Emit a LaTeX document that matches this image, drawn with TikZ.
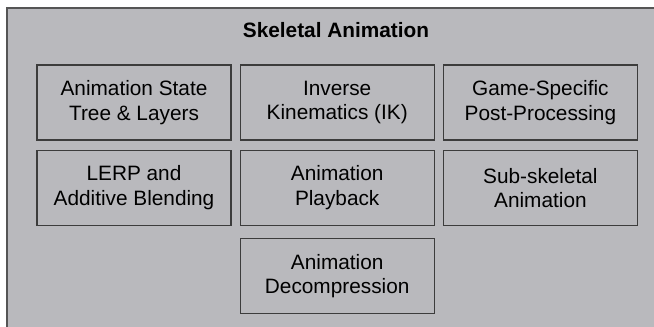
\documentclass[tikz,border=0pt]{standalone}
\usepackage{fontspec}
\setmainfont{Liberation Sans}
\definecolor{panelgray}{RGB}{185,185,189}
\definecolor{edgegray}{RGB}{85,85,85}
\definecolor{boxedge}{RGB}{60,60,60}
\usetikzlibrary{positioning}
\tikzset{
  panel/.style={fill=panelgray,draw=edgegray,line width=1.4pt},
  modbox/.style={draw=boxedge,line width=0.9pt,minimum width=145.5pt,minimum height=56.2pt,
    align=center,font=\fontsize{15.6}{18.2}\selectfont,inner sep=0pt},
  ttl/.style={font=\fontsize{15.6}{18.2}\selectfont\bfseries},
}
\begin{document}
\begin{tikzpicture}[x=0.75pt,y=-0.75pt]
  \useasboundingbox (0,0) rectangle (654,326);
  \clip (0,0) rectangle (654,326);
  % outer panel (runs off the right and bottom)
  \draw[panel] (7,8) rectangle (670,340);
  \node[ttl] (title) at (336,30.5) {Skeletal Animation};
  % first row
  \node[modbox] (state) at (134,102.5) {Animation State\\Tree \& Layers};
  \node[modbox,right=6pt of state] (ik) {Inverse\\Kinematics (IK)};
  \node[modbox,right=6pt of ik] (post) {Game-Specific\\Post-Processing};
  % second row
  \node[modbox,below=6.8pt of state] (lerp) {LERP and\\Additive Blending};
  \node[modbox,below=6.8pt of ik] (play) {Animation\\Playback};
  \node[modbox,below=6.8pt of post] (subskel) {Sub-skeletal\\Animation};
  % third row
  \node[modbox,below=9pt of play] (decomp) {Animation\\Decompression};
\end{tikzpicture}
\end{document}
